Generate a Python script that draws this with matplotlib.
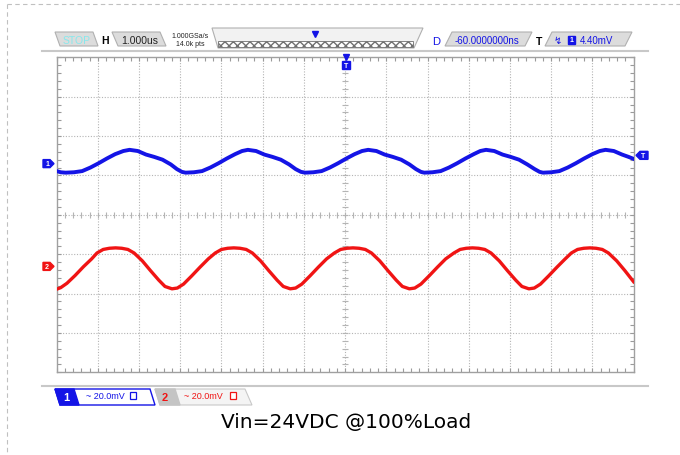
import numpy as np
import matplotlib
matplotlib.use('Agg')
import matplotlib.pyplot as plt
from matplotlib.patches import Polygon, Rectangle
from matplotlib.ticker import MultipleLocator

# trace samples (time in divisions, level in divisions)
blue_t = [0.0, 0.1, 0.22, 0.42, 0.62, 0.82, 1.02, 1.22, 1.42, 1.62, 1.77, 1.97, 2.17, 2.37, 2.57, 2.77, 2.92, 3.04,
          3.13, 3.33, 3.53, 3.73, 3.93, 4.13, 4.33, 4.5, 4.64, 4.84, 5.04, 5.24, 5.44, 5.64, 5.8, 5.93,
          6.03, 6.23, 6.43, 6.63, 6.83, 7.03, 7.23, 7.41, 7.56, 7.76, 7.96, 8.16, 8.36, 8.56, 8.72, 8.84,
          8.92, 9.12, 9.32, 9.52, 9.72, 9.92, 10.12, 10.28, 10.42, 10.62, 10.82, 11.02, 11.22, 11.42, 11.6, 11.72,
          11.8, 12.0, 12.2, 12.4, 12.6, 12.8, 13.0, 13.18, 13.32, 13.52, 13.72, 13.88, 14.0]
blue_v = [1.11, 1.08, 1.07, 1.08, 1.11, 1.20, 1.31, 1.43, 1.54, 1.62, 1.65, 1.62, 1.53, 1.47, 1.40, 1.28, 1.16, 1.09,
          1.07, 1.08, 1.11, 1.20, 1.31, 1.43, 1.54, 1.62, 1.65, 1.62, 1.53, 1.47, 1.40, 1.28, 1.16, 1.09,
          1.07, 1.08, 1.11, 1.20, 1.31, 1.43, 1.54, 1.62, 1.65, 1.62, 1.53, 1.47, 1.40, 1.28, 1.16, 1.09,
          1.07, 1.08, 1.11, 1.20, 1.31, 1.43, 1.54, 1.62, 1.65, 1.62, 1.53, 1.47, 1.40, 1.28, 1.16, 1.09,
          1.07, 1.08, 1.11, 1.20, 1.31, 1.43, 1.54, 1.62, 1.65, 1.62, 1.53, 1.47, 1.42]

red_t = [0.0, 0.1, 0.25, 0.45, 0.65, 0.85, 0.98,
         1.13, 1.28, 1.43, 1.58, 1.73, 1.88, 2.08, 2.28, 2.48, 2.63, 2.80, 2.93, 3.08, 3.28, 3.48, 3.68, 3.85,
         4.0, 4.15, 4.30, 4.45, 4.60, 4.75, 4.95, 5.15, 5.35, 5.50, 5.67, 5.80, 5.95, 6.15, 6.35, 6.55, 6.74,
         6.89, 7.04, 7.19, 7.34, 7.49, 7.64, 7.84, 8.04, 8.24, 8.39, 8.56, 8.69, 8.84, 9.04, 9.24, 9.44, 9.64,
         9.79, 9.94, 10.09, 10.24, 10.39, 10.54, 10.74, 10.94, 11.14, 11.29, 11.46, 11.59, 11.74, 11.94, 12.14, 12.34, 12.49,
         12.64, 12.79, 12.94, 13.09, 13.24, 13.39, 13.59, 13.79, 14.0]
red_v = [-1.89, -1.85, -1.74, -1.54, -1.32, -1.12, -0.97,
         -0.88, -0.85, -0.84, -0.85, -0.88, -0.97, -1.17, -1.42, -1.66, -1.82, -1.88, -1.86, -1.76, -1.55, -1.33, -1.12, -0.97,
         -0.88, -0.85, -0.84, -0.85, -0.88, -0.97, -1.17, -1.42, -1.66, -1.82, -1.88, -1.86, -1.76, -1.55, -1.33, -1.12, -0.97,
         -0.88, -0.85, -0.84, -0.85, -0.88, -0.97, -1.17, -1.42, -1.66, -1.82, -1.88, -1.86, -1.76, -1.55, -1.33, -1.12, -0.97,
         -0.88, -0.85, -0.84, -0.85, -0.88, -0.97, -1.17, -1.42, -1.66, -1.82, -1.88, -1.86, -1.76, -1.55, -1.33, -1.12, -0.97,
         -0.88, -0.85, -0.84, -0.85, -0.88, -0.97, -1.17, -1.42, -1.70]

ch1_level = 1.30
ch2_level = -1.31
trig_level = 1.51

timebase = '1.000us'
rate = '1.000GSa/s'
points = '14.0k pts'
delay = '-60.0000000ns'
trig_val = '4.40mV'
ch1_scale = '~ 20.0mV'
ch2_scale = '~ 20.0mV'
caption = 'Vin=24VDC @100%Load'

BLUE = '#1414e6'
RED = '#f01414'
GRID = '#b4b4b4'

fig = plt.figure(figsize=(6.8, 4.56), dpi=100)

ax = fig.add_axes([56.6 / 680, 1 - 373.3 / 456, 577 / 680, 315 / 456])
ax.set_xlim(0, 14)
ax.set_ylim(-4, 4)
for x in range(1, 14):
    ax.axvline(x, color=GRID, lw=0.8, ls=(0, (1, 1.5)), zorder=1)
for y in range(-3, 4):
    ax.axhline(y, color=GRID, lw=0.8, ls=(0, (1, 1.5)), zorder=1)
# small ticks on the centre lines
cx = np.arange(0, 14.01, 0.2)
cy = np.arange(-4, 4.01, 0.2)
ax.plot(cx, np.zeros_like(cx), ls='none', marker='|', ms=4, mew=0.8, color=GRID, zorder=1)
ax.plot(np.full_like(cy, 7), cy, ls='none', marker='_', ms=4, mew=0.8, color=GRID, zorder=1)
ax.xaxis.set_major_locator(MultipleLocator(1))
ax.yaxis.set_major_locator(MultipleLocator(1))
ax.xaxis.set_minor_locator(MultipleLocator(0.2))
ax.yaxis.set_minor_locator(MultipleLocator(0.2))
ax.tick_params(which='both', direction='in', top=True, right=True, length=3,
               width=0.8, color='#9a9a9a', labelbottom=False, labelleft=False)
for s in ax.spines.values():
    s.set_color('#a0a0a0')
    s.set_linewidth(1.0)

ax.plot(blue_t, blue_v, color=BLUE, lw=2.8, solid_joinstyle='round', zorder=3)
ax.plot(red_t, red_v, color=RED, lw=2.4, solid_joinstyle='round', zorder=3)

# overlay in pixel coordinates for the scope chrome
ov = fig.add_axes([0, 0, 1, 1], zorder=5)
ov.set_xlim(0, 680)
ov.set_ylim(456, 0)
ov.axis('off')
ov.patch.set_alpha(0)

# dashed page frame
ov.plot([6.5, 680], [5, 5], color='#c0c0c0', lw=0.8, ls=(0, (4, 3)))
ov.plot([6.5, 6.5], [5, 456], color='#c0c0c0', lw=0.8, ls=(0, (4, 3)))

# separator lines
ov.plot([42, 648], [52, 52], color='#c8c8c8', lw=1.5)
ov.plot([42, 648], [387, 387], color='#c8c8c8', lw=1.5)


def tab(x0, x1, y0, y1, lean, fc='#dcdcdc', ec='#b0b0b0'):
    ov.add_patch(Polygon([(x0, y0), (x1, y0), (x1 + lean, y1), (x0 + lean, y1)],
                         closed=True, fc=fc, ec=ec, lw=0.8))


font = ['Liberation Sans', 'DejaVu Sans']
tab(55, 93, 33, 47, 5)
ov.text(77, 40.5, 'STOP', color='#88e8ec', fontsize=7.5, ha='center', va='center', family=font)
ov.text(105, 41, 'H', color='black', fontsize=7.5, ha='center', va='center', weight='bold', family=font)
tab(112, 160, 33, 47, 6)
ov.text(140, 41, timebase, color='#222222', fontsize=7.5, ha='center', va='center', family=font)
ov.text(190, 36.5, rate, color='#222222', fontsize=5, ha='center', va='center', family=font)
ov.text(190, 45, points, color='#222222', fontsize=5, ha='center', va='center', family=font)

# memory bar
ov.add_patch(Polygon([(212, 29), (423, 29), (414, 49), (218, 49)], closed=True,
                     fc='#f2f2f2', ec='#b0b0b0', lw=0.8))
ov.add_patch(Rectangle((218, 42), 195, 6, fc='white', ec='#707070', lw=0.6, hatch='xxxx'))
ov.plot([315], [35], marker='v', ms=5, color=BLUE)

ov.text(436, 42, 'D', color=BLUE, fontsize=8, ha='center', va='center', family=font)
tab(452, 532, 33, 47, -7)
ov.text(487, 41, delay, color=BLUE, fontsize=7, ha='center', va='center', family=font)
ov.text(539, 42, 'T', color='black', fontsize=7.5, ha='center', va='center', weight='bold', family=font)
tab(552, 632, 33, 47, -7)
ov.text(558, 41, '\u21af', color=BLUE, fontsize=7, ha='center', va='center', family=['DejaVu Sans'])
ov.add_patch(Rectangle((568, 37), 7, 8, fc=BLUE, ec=BLUE))
ov.text(571.5, 41, '1', color='white', fontsize=5, ha='center', va='center', weight='bold', family=font)
ov.text(597, 41, trig_val, color=BLUE, fontsize=7, ha='center', va='center', family=font)

# trigger position marker on top of grid
ov.plot([346], [58], marker='v', ms=4, color=BLUE)
ov.add_patch(Rectangle((342, 62), 8, 8, fc=BLUE, ec=BLUE))
ov.text(346, 66, 'T', color='white', fontsize=5, ha='center', va='center', weight='bold', family=font)

# channel level markers, placed through the grid axes transform
to_px = lambda yv: ov.transData.inverted().transform(ax.transData.transform((0, yv)))[1]
for lvl, lab, col in [(ch1_level, '1', BLUE), (ch2_level, '2', RED)]:
    py = to_px(lvl)
    ov.add_patch(Polygon([(43, py - 4), (50, py - 4), (54, py), (50, py + 4), (43, py + 4)],
                         closed=True, fc=col, ec=col))
    ov.text(47, py, lab, color='white', fontsize=5, ha='center', va='center', weight='bold', family=font)
py = to_px(trig_level)
ov.add_patch(Polygon([(636, py), (640, py - 4), (648, py - 4), (648, py + 4), (640, py + 4)],
                     closed=True, fc=BLUE, ec=BLUE))
ov.text(643.5, py, 'T', color='white', fontsize=5, ha='center', va='center', weight='bold', family=font)

# channel tabs at the bottom
ov.add_patch(Polygon([(55, 390), (150, 390), (155, 406), (60, 406)], closed=True,
                     fc='white', ec=BLUE, lw=1.0))
ov.add_patch(Polygon([(55, 390), (74, 390), (79, 406), (60, 406)], closed=True, fc=BLUE, ec=BLUE))
ov.text(66, 398, '1', color='white', fontsize=8, ha='center', va='center', weight='bold', family=font)
ov.text(105, 397, ch1_scale, color=BLUE, fontsize=6.5, ha='center', va='center', family=font)
ov.add_patch(Rectangle((130, 393), 6, 7, fc='white', ec=BLUE, lw=0.9))
ov.add_patch(Polygon([(155, 390), (245, 390), (252, 406), (160, 406)], closed=True,
                     fc='#f4f4f4', ec='#c8c8c8', lw=0.8))
ov.add_patch(Polygon([(155, 390), (175, 390), (180, 406), (160, 406)], closed=True,
                     fc='#c4c4c4', ec='#c4c4c4'))
ov.text(165, 398, '2', color=RED, fontsize=8, ha='center', va='center', weight='bold', family=font)
ov.text(203, 397, ch2_scale, color=RED, fontsize=6.5, ha='center', va='center', family=font)
ov.add_patch(Rectangle((230, 393), 6, 7, fc='white', ec=RED, lw=0.9))

ov.text(346, 423, caption, color='black', fontsize=14.5, ha='center', va='center', family=['DejaVu Sans'])

fig.savefig('out.png', dpi=100)
